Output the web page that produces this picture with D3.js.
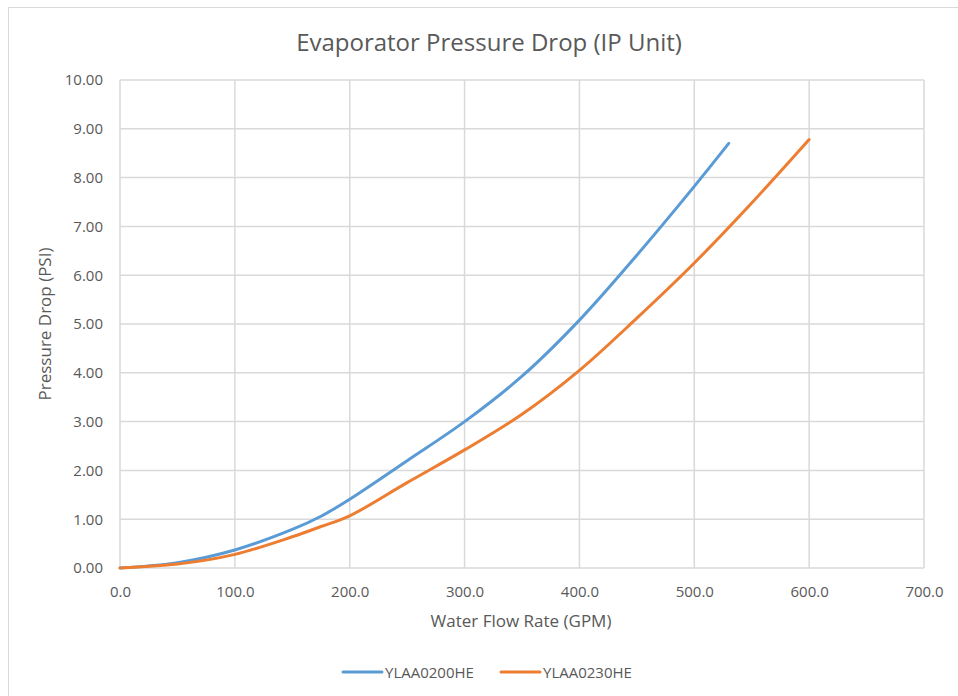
<!DOCTYPE html>
<html><head><meta charset="utf-8">
<script src="https://cdn.jsdelivr.net/npm/d3@7"></script>
<style>body{margin:0;background:#fff;} svg{display:block;font-family:"Open Sans",Lato,sans-serif;}</style>
</head><body><svg id="c" width="958" height="696"></svg>
<script>
const seriesNames = ["YLAA0200HE", "YLAA0230HE"];
const colors = ["#5b9bd5", "#ed7d31"];
const flowA = [0, 50, 100, 150, 175, 200, 250, 300, 350, 400, 450, 500, 530];
const dropA = [0, 0.11, 0.37, 0.79, 1.06, 1.41, 2.2, 3.0, 3.93, 5.08, 6.41, 7.82, 8.7];
const flowB = [0, 50, 100, 150, 175, 200, 250, 300, 350, 400, 450, 500, 550, 600];
const dropB = [0, 0.08, 0.28, 0.64, 0.85, 1.07, 1.75, 2.42, 3.15, 4.05, 5.12, 6.25, 7.48, 8.78];
const xTicks = [0, 100, 200, 300, 400, 500, 600, 700];
const yTicks = [0, 1, 2, 3, 4, 5, 6, 7, 8, 9, 10];

(function () {
const svg = d3.select("#c");
const pl = 120, pr = 924, pt = 80, pb = 568;
const x = d3.scaleLinear().domain([0, 700]).range([pl, pr]);
const y = d3.scaleLinear().domain([0, 10]).range([pb, pt]);
const txt = "#595959";

svg.append("rect").attr("x", 8.5).attr("y", 7.5).attr("width", 970).attr("height", 720)
  .attr("fill", "#fff").attr("stroke", "#d9d9d9").attr("stroke-width", 1);

// grid
svg.append("g").selectAll("line").data(yTicks).join("line")
  .attr("x1", pl).attr("x2", pr).attr("y1", d => y(d)).attr("y2", d => y(d))
  .attr("stroke", "#d9d9d9").attr("stroke-width", 1.5);
svg.append("g").selectAll("line").data(xTicks).join("line")
  .attr("y1", pt).attr("y2", pb).attr("x1", d => x(d)).attr("x2", d => x(d))
  .attr("stroke", "#d9d9d9").attr("stroke-width", 1.5);

// axes
const yAxis = d3.axisLeft(y).tickValues(yTicks).tickFormat(d3.format(".2f")).tickSize(0).tickPadding(17);
const gy = svg.append("g").attr("transform", `translate(${pl},0)`).call(yAxis);
gy.select(".domain").remove();
gy.selectAll("text").attr("fill", txt).style("font-size", "15px").style("font-family", "'Open Sans',sans-serif");

const xAxis = d3.axisBottom(x).tickValues(xTicks).tickFormat(d3.format(".1f")).tickSize(0).tickPadding(18);
const gx = svg.append("g").attr("transform", `translate(0,${pb})`).call(xAxis);
gx.select(".domain").remove();
gx.selectAll("text").attr("fill", txt).style("font-size", "15px").style("font-family", "'Open Sans',sans-serif");

// lines
const line = d3.line().x(d => x(d[0])).y(d => y(d[1])).curve(d3.curveCatmullRom.alpha(0.5));
const dataA = flowA.map((f, i) => [f, dropA[i]]);
const dataB = flowB.map((f, i) => [f, dropB[i]]);
[dataA, dataB].forEach((d, i) => {
  svg.append("path").datum(d).attr("d", line).attr("fill", "none")
    .attr("stroke", colors[i]).attr("stroke-width", 3).attr("stroke-linecap", "round").attr("stroke-linejoin", "round");
});

// titles
svg.append("text").attr("x", 489).attr("y", 51).attr("text-anchor", "middle")
  .attr("fill", txt).style("font-size", "24px").text("Evaporator Pressure Drop (IP Unit)");
svg.append("text").attr("x", 521).attr("y", 627).attr("text-anchor", "middle")
  .attr("fill", txt).style("font-size", "17px").text("Water Flow Rate (GPM)");
svg.append("text").attr("transform", "translate(51,324) rotate(-90)").attr("text-anchor", "middle")
  .attr("fill", txt).style("font-size", "17px").text("Pressure Drop (PSI)");

// legend
const legX = [343, 501];
seriesNames.forEach((n, i) => {
  svg.append("line").attr("x1", legX[i]).attr("x2", legX[i] + 39).attr("y1", 672).attr("y2", 672)
    .attr("stroke", colors[i]).attr("stroke-width", 3).attr("stroke-linecap", "round");
  svg.append("text").attr("x", legX[i] + 42).attr("y", 677.5).attr("fill", txt)
    .style("font-size", "15px").text(n);
});
})();
</script></body></html>
